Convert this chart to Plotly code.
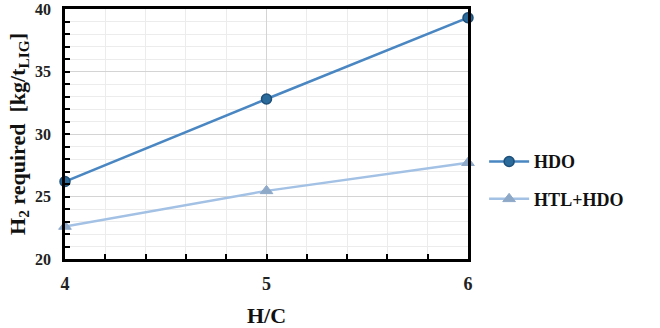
import plotly.graph_objects as go

hc = [4, 5, 6]
hdo = [26.2, 32.8, 39.3]
htl_hdo = [22.6, 25.45, 27.7]

fig = go.Figure()
fig.add_trace(go.Scatter(
    x=hc, y=hdo, name="HDO", mode="lines+markers", cliponaxis=False, legendgroup="g1",
    line=dict(color="#4a87c2", width=2.5),
    marker=dict(symbol="circle", size=10, color="#2a6b9c", line=dict(color="#1d4f78", width=1.5)),
))
fig.add_trace(go.Scatter(
    x=hc, y=htl_hdo, name="HTL+HDO", mode="lines+markers", cliponaxis=False, legendgroup="g2",
    line=dict(color="#a3c1e4", width=2.5),
    marker=dict(symbol="triangle-up", size=11, color="#8ea8c8", line=dict(color="#8ea8c8", width=1)),
))

font_fam = "Liberation Serif"
fig.update_layout(
    width=660, height=328,
    margin=dict(l=65, r=192, t=9, b=69),
    paper_bgcolor="white", plot_bgcolor="white",
    font=dict(family=font_fam, color="#222222"),
    legend=dict(x=1.04, y=0.315, yanchor="middle", xanchor="left",
                font=dict(family=font_fam, size=18, color="#111111", weight="bold"),
                tracegroupgap=11, itemwidth=40),
    xaxis=dict(
        range=[4, 6], tickvals=[4, 5, 6], ticktext=["<b>4</b>", "<b>5</b>", "<b>6</b>"],
        tickfont=dict(size=18, family=font_fam, color="#222222"), ticks="inside", ticklen=5, tickwidth=2, tickcolor="black",
        ticklabelstandoff=7, automargin=False, ticklabeloverflow="allow",
        showgrid=True, gridcolor="#d4d4d4", gridwidth=1,
        minor=dict(dtick=0.2, ticks="inside", ticklen=5, tickwidth=2, tickcolor="black",
                   showgrid=True, gridcolor="#ececec", gridwidth=1),
        showline=True, linecolor="black", linewidth=2.5, mirror=True,
        title=dict(text="<b>H/C</b>", font=dict(size=22, family=font_fam, color="#111111"), standoff=16),
        zeroline=False,
    ),
    yaxis=dict(
        range=[20, 40], tickvals=[20, 25, 30, 35, 40],
        ticktext=["<b>20</b>", "<b>25</b>", "<b>30</b>", "<b>35</b>", "<b>40</b>"],
        tickfont=dict(size=16, family=font_fam, color="#222222"), ticks="inside", ticklen=5, tickwidth=2, tickcolor="black",
        ticklabelstandoff=8, automargin=False, ticklabeloverflow="allow",
        showgrid=True, gridcolor="#d4d4d4", gridwidth=1,
        minor=dict(dtick=1, ticks="inside", ticklen=5, tickwidth=2, tickcolor="black",
                   showgrid=True, gridcolor="#ececec", gridwidth=1),
        showline=True, linecolor="black", linewidth=2.5, mirror=True,
        title=dict(text="<b>H<sub>2</sub> required  [kg/t<sub>LIG</sub>]</b>",
                   font=dict(size=22, family=font_fam, color="#111111"), standoff=4),
        zeroline=False,
    ),
)

fig.write_html("out.html")
